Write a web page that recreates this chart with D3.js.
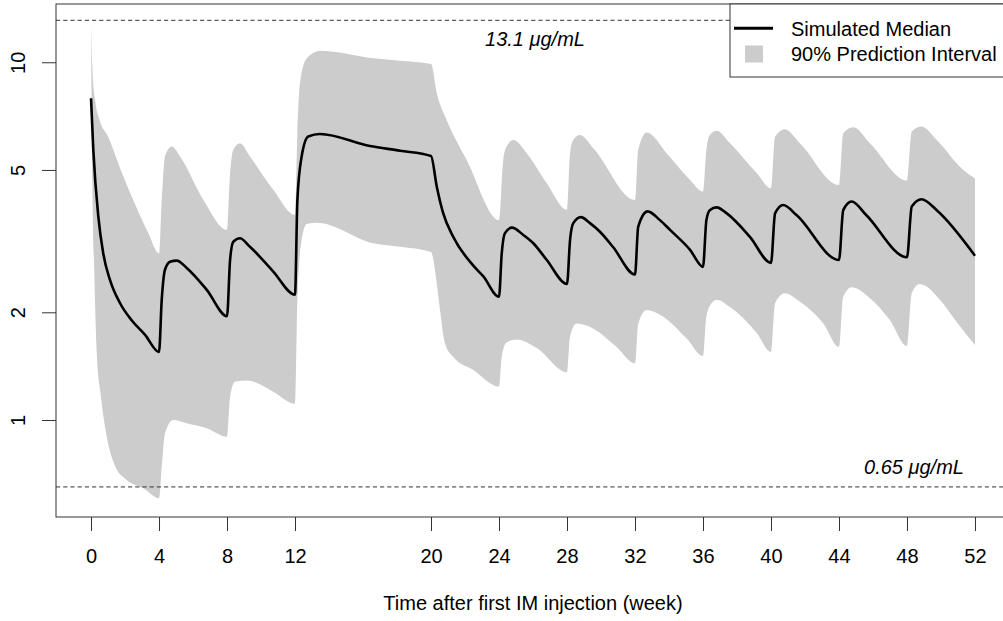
<!DOCTYPE html>
<html>
<head>
<meta charset="utf-8">
<script src="https://cdn.jsdelivr.net/npm/d3@7"></script>
<style>
  body { margin: 0; background: #fff; }
  svg { display: block; }
  text { font-family: "Liberation Sans", Arial, Helvetica, sans-serif; fill: #000; }
</style>
</head>
<body>
<svg id="chart" width="1003" height="621"></svg>
<script>
// Concentration-time profile (log scale) after the first IM injection

// x-axis ticks (weeks) and y-axis ticks (µg/mL)
const weekTicks = [0, 4, 8, 12, 20, 24, 28, 32, 36, 40, 44, 48, 52];
const concTicks = [1, 2, 5, 10];

// reference concentrations drawn as dashed lines
const thresholds = [13.1, 0.65];
const thresholdLabels = ["13.1 μg/mL", "0.65 μg/mL"];

// simulated median
const medianWeek = [0, 0.135, 0.43, 0.72, 1.12, 1.71, 2.39, 3.18, 4.0, 4.16, 4.35, 4.65, 5.04, 5.63, 6.81, 8.0,
  8.18, 8.37, 8.76, 9.35, 10.72, 12.0, 12.14, 12.39, 12.78, 13.47, 16.41, 18.18, 20.0, 20.34, 20.72, 21.31,
  22.49, 23.08, 24.0, 24.16, 24.35, 24.76, 25.43, 26.02, 26.81, 28.0, 28.18, 28.37, 28.82, 29.35, 29.94,
  30.72, 32.0, 32.19, 32.74, 33.47, 34.06, 35.24, 36.0, 36.2, 36.4, 36.8, 37.4, 38.76, 40.0, 40.24, 40.72,
  41.5, 44.0, 44.25, 44.75, 45.6, 48.0, 48.28, 48.86, 49.75, 52.0];
const medianConc = [7.93, 5.69, 3.70, 2.92, 2.46, 2.12, 1.90, 1.73, 1.55, 2.17, 2.63, 2.77, 2.79, 2.66, 2.31, 1.95,
  2.80, 3.15, 3.22, 3.05, 2.60, 2.24, 4.12, 5.45, 6.20, 6.30, 5.83, 5.66, 5.47, 4.49, 3.78, 3.25,
  2.70, 2.52, 2.21, 2.92, 3.33, 3.45, 3.29, 3.12, 2.80, 2.40, 3.19, 3.55, 3.69, 3.55, 3.36,
  3.04, 2.55, 3.47, 3.83, 3.62, 3.40, 2.99, 2.68, 3.62, 3.86, 3.93, 3.78, 3.25, 2.75, 3.78, 3.99,
  3.74, 2.80, 3.86, 4.08, 3.74, 2.85, 3.95, 4.14, 3.86, 2.88];

// 90% prediction interval, upper bound
const upperWeek = [0, 0.08, 0.24, 0.5, 1.0, 1.75, 2.65, 3.37, 4.0, 4.16, 4.35, 4.75, 5.24, 6.61, 8.0,
  8.18, 8.37, 8.76, 9.35, 10.72, 12.0, 12.14, 12.29, 12.69, 13.47, 16.61, 18.18, 20.0, 20.34, 20.92, 22.1,
  24.0, 24.25, 24.45, 24.84, 25.63, 26.81, 28.0, 28.18, 28.37, 28.76, 29.55, 32.0, 32.19, 32.69, 33.86,
  35.24, 36.0, 36.2, 36.4, 36.8, 37.59, 39.16, 40.0, 40.24, 40.82, 41.7, 44.0, 44.25, 44.84, 45.82,
  48.0, 48.28, 48.86, 49.75, 51.31, 52.0];
const upperConc = [12.85, 9.7, 7.85, 6.9, 6.2, 5.0, 3.95, 3.33, 2.92, 4.12, 5.45, 5.81, 5.45, 4.12, 3.40,
  4.90, 5.69, 5.94, 5.45, 4.40, 3.74, 6.33, 8.73, 10.26, 10.77, 10.26, 10.09, 9.89, 8.19, 6.9, 5.33,
  3.62, 5.33, 5.81, 6.06, 5.57, 4.59, 3.87, 5.57, 6.06, 6.26, 5.75, 4.12, 5.69, 6.36, 5.57,
  4.69, 4.35, 5.69, 6.26, 6.44, 5.94, 4.90, 4.44, 6.20, 6.50, 5.94, 4.54, 6.33, 6.58, 5.94,
  4.67, 6.40, 6.61, 6.06, 5.0, 4.74];

// 90% prediction interval, lower bound
const lowerWeek = [0, 0.08, 0.19, 0.35, 0.55, 0.92, 1.41, 2.1, 3.08, 4.0, 4.16, 4.35, 4.84, 5.63, 6.81, 8.0,
  8.18, 8.47, 9.16, 10.72, 12.0, 12.14, 12.39, 12.69, 13.28, 16.61, 18.18, 20.0, 20.34, 20.53, 20.82, 21.31,
  22.49, 24.0, 24.16, 24.45, 25.04, 26.22, 28.0, 28.18, 28.57, 29.55, 30.92, 32.0, 32.19, 32.69, 33.47,
  35.04, 36.0, 36.2, 36.5, 36.8, 37.59, 39.16, 40.0, 40.24, 40.82, 41.7, 43.08, 44.0, 44.25, 44.75, 45.82,
  47.0, 48.0, 48.28, 48.76, 49.94, 50.92, 52.0];
const lowerConc = [12.85, 4.5, 2.6, 1.5, 1.2, 0.90, 0.745, 0.68, 0.644, 0.604, 0.74, 0.918, 1.0, 0.979, 0.948, 0.898,
  1.16, 1.28, 1.29, 1.20, 1.11, 2.17, 3.19, 3.53, 3.56, 3.12, 3.05, 2.95, 2.41, 2.03, 1.64, 1.50,
  1.38, 1.24, 1.50, 1.65, 1.68, 1.59, 1.36, 1.71, 1.86, 1.80, 1.60, 1.44, 1.86, 2.03, 1.97,
  1.69, 1.51, 1.95, 2.12, 2.17, 2.07, 1.75, 1.55, 2.12, 2.26, 2.14, 1.86, 1.60, 2.21, 2.35, 2.19,
  1.90, 1.61, 2.26, 2.40, 2.17, 1.88, 1.62];

const legendLabels = ["Simulated Median", "90% Prediction Interval"];
const xTitle = "Time after first IM injection (week)";

const svg = d3.select("#chart");
const plotLeft = 56, plotRight = 1010, plotTop = 4, plotBottom = 517;

const x = d3.scaleLinear().domain([-2.06, 54.06]).range([plotLeft, plotRight]);
const y = d3.scaleLog().domain([0.5356, 14.55]).range([plotBottom, plotTop]);

const zip = (a, b) => a.map((v, i) => [v, b[i]]);
const line = d3.line()
  .x(d => x(d[0]))
  .y(d => y(d[1]))
  .curve(d3.curveMonotoneX);

// prediction band: upper bound forward, lower bound backward
const upperPath = line(zip(upperWeek, upperConc));
const lowerPath = line(zip(lowerWeek, lowerConc).reverse());
svg.append("path")
  .attr("d", upperPath + "L" + lowerPath.slice(1) + "Z")
  .attr("fill", "#cccccc")
  .attr("stroke", "none");

// dashed reference lines
svg.selectAll("line.ref")
  .data(thresholds)
  .join("line")
  .attr("class", "ref")
  .attr("x1", plotLeft).attr("x2", plotRight)
  .attr("y1", d => y(d)).attr("y2", d => y(d))
  .attr("stroke", "#333")
  .attr("stroke-width", 1)
  .attr("stroke-dasharray", "4.2,3");

// median curve
svg.append("path")
  .attr("d", line(zip(medianWeek, medianConc)))
  .attr("fill", "none")
  .attr("stroke", "#000")
  .attr("stroke-width", 2.6)
  .attr("stroke-linejoin", "round");

// reference line labels
svg.append("text")
  .attr("x", 535).attr("y", 46)
  .attr("text-anchor", "middle")
  .attr("font-size", 20)
  .attr("font-style", "italic")
  .text(thresholdLabels[0]);
svg.append("text")
  .attr("x", 914).attr("y", 474)
  .attr("text-anchor", "middle")
  .attr("font-size", 20)
  .attr("font-style", "italic")
  .text(thresholdLabels[1]);

// x axis
const xAxis = d3.axisBottom(x).tickValues(weekTicks).tickSize(14).tickPadding(18).tickFormat(d3.format("d"));
const gx = svg.append("g").attr("transform", `translate(0,${plotBottom})`).call(xAxis);
gx.select(".domain").remove();
gx.selectAll("line").attr("stroke", "#333");
gx.selectAll("text").attr("font-size", 20).attr("font-family", null).attr("fill", "#000");

// y axis with rotated labels
const yAxis = d3.axisLeft(y).tickValues(concTicks).tickSize(14).tickFormat(d3.format("d"));
const gy = svg.append("g").attr("transform", `translate(${plotLeft},0)`).call(yAxis);
gy.select(".domain").remove();
gy.selectAll("line").attr("stroke", "#333");
gy.selectAll("text")
  .attr("font-size", 20).attr("font-family", null).attr("fill", "#000")
  .attr("x", null).attr("dy", null)
  .attr("text-anchor", "middle")
  .attr("transform", "translate(-31,0) rotate(-90)");

// axis title
svg.append("text")
  .attr("x", (plotLeft + plotRight) / 2).attr("y", 610)
  .attr("text-anchor", "middle")
  .attr("font-size", 20)
  .text(xTitle);

// plot frame
svg.append("rect")
  .attr("x", plotLeft).attr("y", plotTop)
  .attr("width", plotRight - plotLeft).attr("height", plotBottom - plotTop)
  .attr("fill", "none").attr("stroke", "#333").attr("stroke-width", 1);

// legend
const lg = svg.append("g");
lg.append("rect")
  .attr("x", 730).attr("y", plotTop).attr("width", 300).attr("height", 73)
  .attr("fill", "#fff").attr("stroke", "#333").attr("stroke-width", 1);
lg.append("line")
  .attr("x1", 734).attr("x2", 773).attr("y1", 28.3).attr("y2", 28.3)
  .attr("stroke", "#000").attr("stroke-width", 3);
lg.append("rect")
  .attr("x", 745).attr("y", 45.5).attr("width", 18).attr("height", 17)
  .attr("fill", "#cccccc");
lg.selectAll("text.leg")
  .data(legendLabels)
  .join("text")
  .attr("class", "leg")
  .attr("x", 791)
  .attr("y", (d, i) => 35.7 + i * 25)
  .attr("font-size", 20)
  .text(d => d);
</script>
</body>
</html>
